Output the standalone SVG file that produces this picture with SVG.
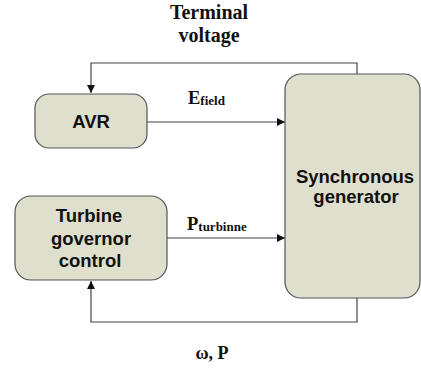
<svg xmlns="http://www.w3.org/2000/svg" width="421" height="369" viewBox="0 0 421 369">
<style>
.box{fill:#dfdfcd;stroke:#555;stroke-width:1.2}
.lbl{font-family:"Liberation Sans",Arial,sans-serif;font-weight:bold;font-size:18.5px;fill:#111;text-anchor:middle}
.sig{font-family:"Liberation Serif","Times New Roman",serif;font-weight:bold;fill:#111}
.ln{fill:none;stroke:#444;stroke-width:1.2}
</style>
<defs>
<marker id="ah" viewBox="0 0 10 10" refX="10" refY="5" markerWidth="12" markerHeight="8" markerUnits="userSpaceOnUse" orient="auto">
<path d="M0,0 L10,5 L0,10 z" fill="#111"/>
</marker>
</defs>
<rect width="421" height="369" fill="#fff"/>
<g id="connectors">
<polyline class="ln" points="357,74 357,63 91,63 91,93" marker-end="url(#ah)"/>
<line class="ln" x1="147" y1="122" x2="285" y2="122" marker-end="url(#ah)"/>
<line class="ln" x1="167" y1="238" x2="285" y2="238" marker-end="url(#ah)"/>
<polyline class="ln" points="357,298 357,322 91,322 91,281" marker-end="url(#ah)"/>
</g>
<g id="avr">
<rect class="box" x="35" y="94" width="112" height="54" rx="14"/>
<text class="lbl" x="91" y="128">AVR</text>
</g>
<g id="turbine">
<rect class="box" x="15" y="196" width="152" height="84" rx="16"/>
<text class="lbl" x="89" y="222">Turbine</text>
<text class="lbl" x="91" y="245">governor</text>
<text class="lbl" x="90" y="267">control</text>
</g>
<g id="generator">
<rect class="box" x="285" y="74" width="135" height="224" rx="16"/>
<text class="lbl" x="355" y="183">Synchronous</text>
<text class="lbl" x="356" y="203">generator</text>
</g>
<g id="labels">
<text class="sig" x="209" y="19" font-size="20" text-anchor="middle">Terminal</text>
<text class="sig" x="209" y="42" font-size="20" text-anchor="middle">voltage</text>
<text class="sig" x="188" y="104" font-size="18.5">E<tspan font-size="13" dy="1">field</tspan></text>
<text class="sig" x="187" y="230" font-size="18.5">P<tspan font-size="13" dy="1">turbinne</tspan></text>
<text class="sig" x="212" y="359" font-size="18" text-anchor="middle">ω, P</text>
</g>
</svg>
